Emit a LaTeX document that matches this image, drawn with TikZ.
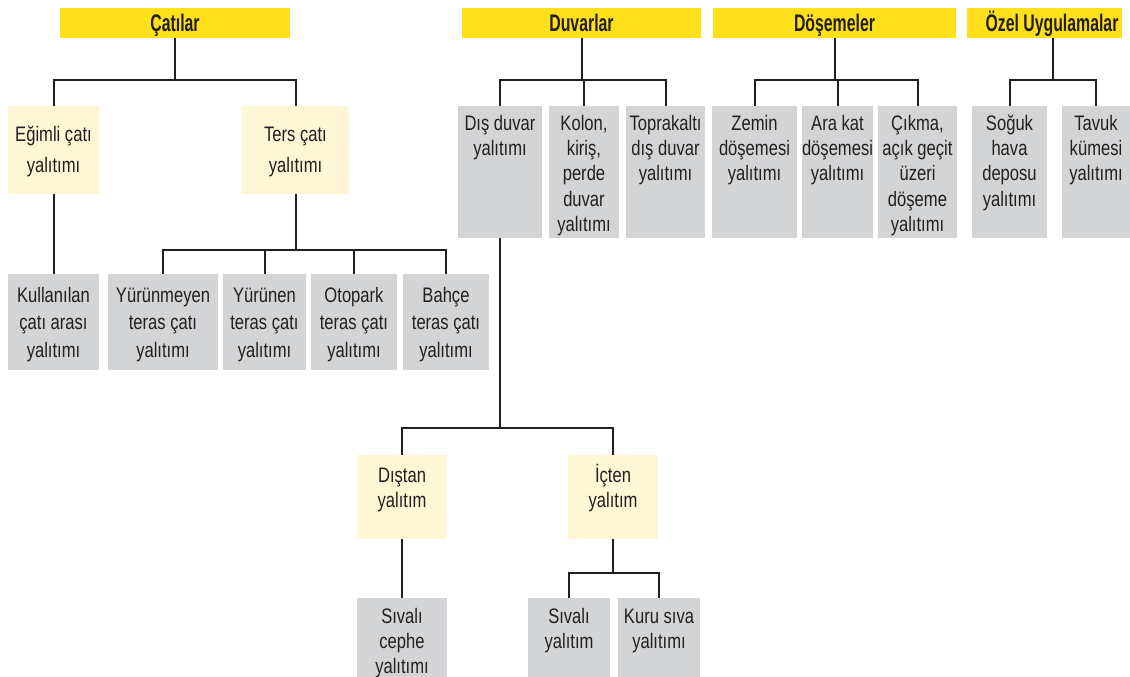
\documentclass[tikz,border=0pt]{standalone}
\usepackage{fontspec}
\setmainfont{Liberation Sans}[FakeStretch=0.79]
\newfontfamily\hdrfont{Liberation Sans Bold}[FakeStretch=0.66]
\definecolor{hdry}{RGB}{255,224,26}
\definecolor{lighty}{RGB}{255,246,214}
\definecolor{boxg}{RGB}{211,212,214}
\definecolor{ink}{RGB}{35,31,32}
\tikzset{
  hdr/.style={fill=hdry, inner sep=0pt, minimum height=30pt},
  hdrtxt/.style={inner sep=0pt, anchor=base, text=ink, font=\hdrfont\fontsize{24}{28}\selectfont},
  ybox/.style={fill=lighty},
  gbox/.style={fill=boxg},
  txt/.style={inner sep=0pt, align=center, text=ink},
  conn/.style={draw=ink, line width=2pt},
}
% name, x1, y1, x2, y2, style, first baseline, baselineskip, text
\newcommand{\bx}[9]{%
  \node[#6, inner sep=0pt, anchor=north west, minimum width={(#4-#2)*1pt}, minimum height={(#5-#3)*1pt}] (#1) at (#2,#3) {};
  \node[txt, font=\fontsize{21}{#8}\selectfont, anchor=north] (#1t) at ({(#2+#4)/2},{#7-22}) {\rule{0pt}{22pt}#9};
}
\begin{document}
\begin{tikzpicture}[x=1pt,y=-1pt]
\useasboundingbox (0,0) rectangle (1130,677);
% headers
\node[hdr, minimum width=230pt] (cat) at (175,23) {};
\node[hdrtxt] (catt) at (175,32) {Çatılar};
\node[hdr, minimum width=239pt] (duv) at (581.5,23) {};
\node[hdrtxt] (duvt) at (581.5,32) {Duvarlar};
\node[hdr, minimum width=243pt] (dos) at (834.5,23) {};
\node[hdrtxt] (dost) at (834.5,32) {Döşemeler};
\node[hdr, minimum width=155pt] (ozl) at (1044.5,23) {};
\node[hdrtxt] (ozlt) at (1052,32) {Özel Uygulamalar};
% light yellow boxes
\bx{egm}{8}{106}{99}{194}{ybox}{141}{31}{Eğimli çatı\\yalıtımı}
\bx{ters}{242}{106}{349}{194}{ybox}{141}{31}{Ters çatı\\yalıtımı}
\bx{distan}{357}{455}{447}{539}{ybox}{482}{25}{Dıştan\\yalıtım}
\bx{icten}{568}{455}{658}{539}{ybox}{482}{25}{İçten\\yalıtım}
% gray top row
\bx{disd}{458}{106}{542}{238}{gbox}{130}{25.3}{Dış duvar\\yalıtımı}
\bx{kolon}{549}{106}{619}{238}{gbox}{130}{25.3}{Kolon,\\kiriş,\\perde\\duvar\\yalıtımı}
\bx{topr}{626}{106}{705}{238}{gbox}{130}{25.3}{Toprakaltı\\dış duvar\\yalıtımı}
\bx{zemin}{712}{106}{797}{238}{gbox}{130}{25.3}{Zemin\\döşemesi\\yalıtımı}
\bx{ara}{802}{106}{873}{238}{gbox}{130}{25.3}{Ara kat\\döşemesi\\yalıtımı}
\bx{cikma}{878}{106}{957}{238}{gbox}{130}{25.3}{Çıkma,\\açık geçit\\üzeri\\döşeme\\yalıtımı}
\bx{soguk}{972}{106}{1047}{238}{gbox}{130}{25.3}{Soğuk\\hava\\deposu\\yalıtımı}
\bx{tavuk}{1062}{106}{1130}{238}{gbox}{130}{25.3}{Tavuk\\kümesi\\yalıtımı}
% gray roof row
\bx{kul}{8}{274}{99}{370}{gbox}{302}{27.5}{Kullanılan\\çatı arası\\yalıtımı}
\bx{yurm}{108}{274}{218}{370}{gbox}{302}{27.5}{Yürünmeyen\\teras çatı\\yalıtımı}
\bx{yur}{223}{274}{306}{370}{gbox}{302}{27.5}{Yürünen\\teras çatı\\yalıtımı}
\bx{oto}{311}{274}{397}{370}{gbox}{302}{27.5}{Otopark\\teras çatı\\yalıtımı}
\bx{bah}{403}{274}{489}{370}{gbox}{302}{27.5}{Bahçe\\teras çatı\\yalıtımı}
% gray bottom row
\bx{scephe}{357}{598}{447}{677}{gbox}{623}{25}{Sıvalı\\cephe\\yalıtımı}
\bx{syal}{528}{598}{610}{677}{gbox}{623}{25}{Sıvalı\\yalıtım}
\bx{kuru}{618}{598}{700}{677}{gbox}{623}{25}{Kuru sıva\\yalıtımı}
% bus levels
\coordinate (b1) at (0,80);
\coordinate (b2) at (0,250);
\coordinate (b3) at (0,428);
\coordinate (b4) at (0,573);
% connectors
\foreach \c in {egm,ters} \draw[conn] (cat.south) |- (\c.north |- b1) -- (\c.north);
\foreach \c in {disd,kolon,topr} \draw[conn] (duv.south) |- (\c.north |- b1) -- (\c.north);
\foreach \c in {zemin,ara,cikma} \draw[conn] (dos.south) |- (\c.north |- b1) -- (\c.north);
\foreach \c in {soguk,tavuk} \draw[conn] ([xshift=8pt]ozl.south) |- (\c.north |- b1) -- (\c.north);
\draw[conn] (egm.south) -- (kul.north);
\foreach \c in {yurm,yur,oto,bah} \draw[conn] (ters.south) |- (\c.north |- b2) -- (\c.north);
\foreach \c in {distan,icten} \draw[conn] (disd.south) |- (\c.north |- b3) -- (\c.north);
\draw[conn] (distan.south) -- (scephe.north);
\foreach \c in {syal,kuru} \draw[conn] (icten.south) |- (\c.north |- b4) -- (\c.north);
\end{tikzpicture}
\end{document}
